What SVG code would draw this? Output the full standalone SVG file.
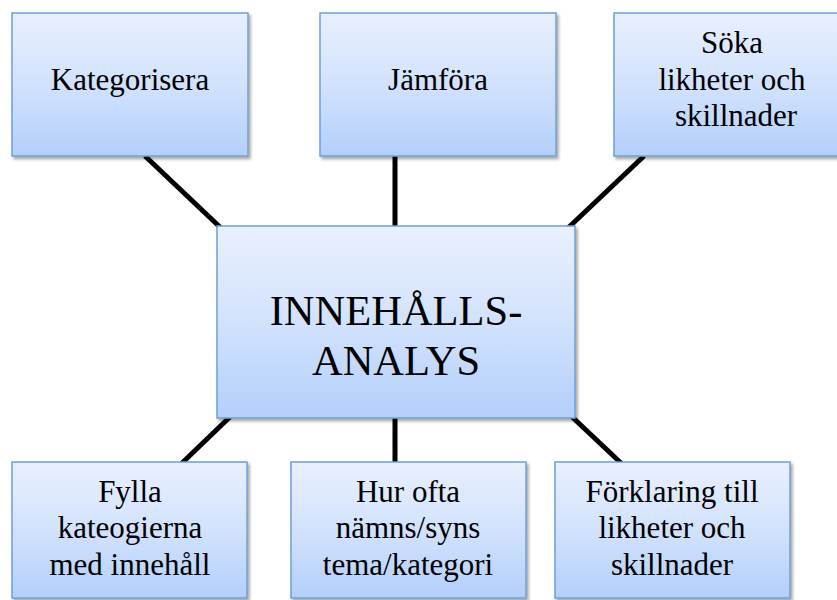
<svg xmlns="http://www.w3.org/2000/svg" width="837" height="600" viewBox="0 0 837 600">
<defs>
<linearGradient id="g" x1="0" y1="0" x2="0" y2="1">
<stop offset="0" stop-color="#e9f0fe"/>
<stop offset="0.5" stop-color="#d2e2fd"/>
<stop offset="1" stop-color="#b3cffb"/>
</linearGradient>
<filter id="sh" x="-10%" y="-10%" width="120%" height="120%">
<feDropShadow dx="2" dy="2.5" stdDeviation="1.8" flood-color="#000" flood-opacity="0.35"/>
</filter>
</defs>
<style>
.box{fill:url(#g);stroke:#6f9fd6;stroke-width:1.5;filter:url(#sh)}
text{font-family:'Liberation Serif','Times New Roman','DejaVu Serif',serif;font-size:31px;fill:#000;text-anchor:middle}
text.big{font-size:42.5px}
.c line{stroke:#000;stroke-width:5}
</style>
<rect width="837" height="600" fill="#fff"/>
<g id="connectors" class="c">
<line x1="145" y1="156" x2="222" y2="229"/>
<line x1="395" y1="155" x2="395" y2="230"/>
<line x1="644" y1="156" x2="568" y2="228"/>
<line x1="233" y1="414" x2="181" y2="464"/>
<line x1="395" y1="414" x2="395" y2="464"/>
<line x1="569" y1="414" x2="622" y2="464"/>
</g>
<g id="kategorisera" font-family="Liberation Serif">
<rect class="box" x="12" y="13" width="236" height="143"/>
<text x="130" y="90">Kategorisera</text>
</g>
<g id="jamfora" font-family="Liberation Serif">
<rect class="box" x="320" y="13" width="236" height="143"/>
<text x="438" y="90">Jämföra</text>
</g>
<g id="soka" font-family="Liberation Serif">
<rect class="box" x="614" y="13" width="236" height="143"/>
<text x="732" y="53">Söka</text>
<text x="732" y="90">likheter och</text>
<text x="736" y="126">skillnader</text>
</g>
<g id="innehallsanalys" font-family="Liberation Serif">
<rect class="box" x="217" y="226" width="358" height="192"/>
<text class="big" x="396" y="325">INNEHÅLLS-</text>
<text class="big" x="396" y="375">ANALYS</text>
</g>
<g id="fylla" font-family="Liberation Serif">
<rect class="box" x="12" y="462" width="235" height="136"/>
<text x="130" y="502">Fylla</text>
<text x="130" y="538">kateogierna</text>
<text x="130" y="575">med innehåll</text>
</g>
<g id="hurofta" font-family="Liberation Serif">
<rect class="box" x="291" y="462" width="235" height="136"/>
<text x="408" y="502">Hur ofta</text>
<text x="408" y="538">nämns/syns</text>
<text x="408" y="575">tema/kategori</text>
</g>
<g id="forklaring" font-family="Liberation Serif">
<rect class="box" x="555" y="462" width="235" height="136"/>
<text x="672" y="502">Förklaring till</text>
<text x="672" y="538">likheter och</text>
<text x="672" y="575">skillnader</text>
</g>
</svg>
